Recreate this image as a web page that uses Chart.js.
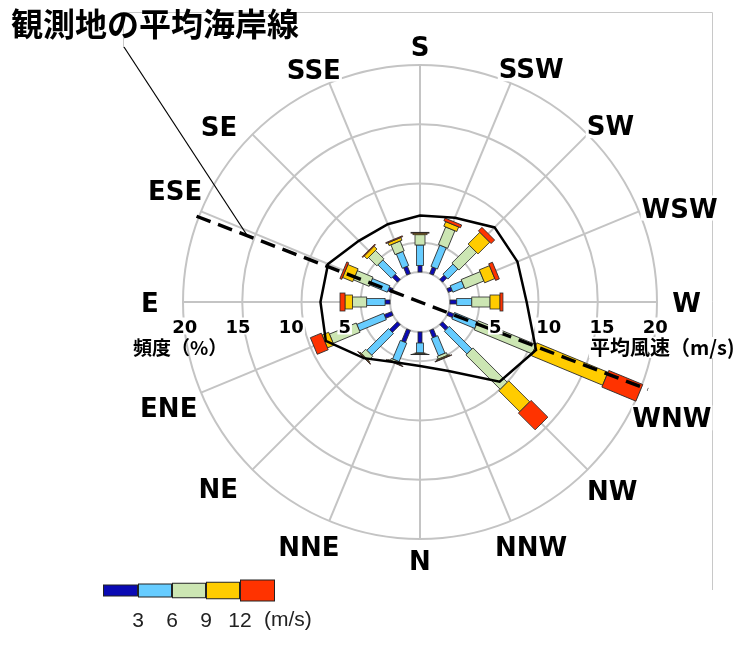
<!DOCTYPE html>
<html>
<head>
<meta charset="utf-8">
<script src="https://cdn.jsdelivr.net/npm/chart.js@4.4.1/dist/chart.umd.min.js"></script>
<style>
  html, body { margin: 0; padding: 0; background: #fff; }
  #rose { display: block; }
</style>
</head>
<body>
<canvas id="rose" width="738" height="657"></canvas>
<script>
// wind directions, clockwise from the top of the rose
const directions = ["S", "SSW", "SW", "WSW", "W", "WNW", "NW", "NNW", "N", "NNE", "NE", "ENE", "E", "ESE", "SE", "SSE"];

// frequency (%) per speed class, same order as directions
const freq0to3   = [0.55, 0.60, 0.50, 0.35, 0.57, 0.50, 0.67, 0.67, 0.93, 1.10, 0.93, 0.67, 0.42, 0.34, 0.60, 0.67];
const freq3to6   = [1.73, 1.95, 1.20, 1.05, 1.27, 2.10, 2.70, 1.60, 0.84, 1.70, 2.60, 2.45, 1.55, 1.60, 1.60, 1.30];
const freq6to9   = [0.87, 1.60, 2.10, 1.73, 1.54, 5.30, 4.10, 0.25, 0.08, 0.17, 0.50, 2.45, 1.20, 1.43, 1.00, 0.90];
const freq9to12  = [0.13, 0.42, 1.40, 0.93, 0.84, 6.50, 2.50, 0.08, 0.04, 0.06, 0.08, 0.60, 0.63, 0.93, 0.34, 0.25];
const freqOver12 = [0.07, 0.25, 0.42, 0.34, 0.25, 3.10, 2.00, 0.04, 0.02, 0.03, 0.04, 1.00, 0.42, 0.17, 0.08, 0.08];

// mean wind speed (m/s) per direction
const meanSpeed = [7.3, 7.7, 8.9, 8.9, 9.0, 10.6, 9.5, 6.3, 5.4, 5.5, 6.7, 8.6, 8.4, 8.4, 7.3, 7.1];

// calm share drawn as the empty centre circle
const calmRing = 2.53;

const freqTicks = [20, 15, 10, 5];
const speedTicks = [5, 10, 15, 20];
const legendTicks = ["3", "6", "9", "12"];

const classSeries = [freq0to3, freq3to6, freq6to9, freq9to12, freqOver12];
const classColors = ["#0a0ab4", "#66ccff", "#cce6b3", "#ffcc00", "#ff3300"];
const classWidths = [4, 7, 10, 14, 18];

// where each direction name sits: radial reach (scale units) and turn off the spoke (deg)
const labelReach = [21.6, 21.8, 21.9, 23.3, 22.5, 23.4, 22.7, 22.7, 21.8, 22.7, 23.2, 23.0, 22.8, 22.7, 22.5, 21.6];
const labelTurn  = [0, 3.0, 2.2, 2.6, 0, 2.2, -0.6, -1.9, 0, 1.9, 2.2, -0.3, 0, 1.9, -3.9, -2.0];

const gridColor = "#c4c4c4";
const coastAngle = 21;      // degrees below the W axis
const coastReach = 20.4;

function polar(scale, angle, value) {
  const d = scale.getDistanceFromCenterForValue(value);
  return { x: scale.xCenter + Math.cos(angle) * d, y: scale.yCenter + Math.sin(angle) * d };
}

// text centred on (x, y) with a white box behind it; capH = ink height
function labelBox(ctx, text, x, y, capH, pad) {
  const w = ctx.measureText(text).width;
  ctx.fillStyle = "#fff";
  ctx.fillRect(x - w / 2 - 1, y - capH / 2 - pad, w + 2, capH + pad * 2);
  ctx.fillStyle = "#000";
  ctx.fillText(text, x, y + capH / 2);
}

const frame = {
  id: "frame",
  beforeDraw(chart) {
    const ctx = chart.ctx;
    ctx.save();
    ctx.fillStyle = "#fff";
    ctx.fillRect(0, 0, chart.width, chart.height);
    ctx.strokeStyle = "#c8c8c8";
    ctx.lineWidth = 1;
    ctx.beginPath();
    ctx.moveTo(123.5, 48);
    ctx.lineTo(123.5, 12.5);
    ctx.lineTo(712.5, 12.5);
    ctx.lineTo(712.5, 590);
    ctx.stroke();
    ctx.restore();
  }
};

const windBars = {
  id: "windBars",
  beforeDatasetsDraw(chart) {
    const ctx = chart.ctx;
    const r = chart.scales.r;
    const hole = r.getDistanceFromCenterForValue(calmRing);

    ctx.save();
    ctx.beginPath();
    ctx.arc(r.xCenter, r.yCenter, hole, 0, Math.PI * 2);
    ctx.fillStyle = "#fff";
    ctx.fill();
    ctx.strokeStyle = gridColor;
    ctx.lineWidth = 2;
    ctx.stroke();

    directions.forEach((dir, i) => {
      const angle = r.getIndexAngle(i) - Math.PI / 2;
      let base = calmRing;
      ctx.save();
      ctx.translate(r.xCenter, r.yCenter);
      ctx.rotate(angle);
      classSeries.forEach((series, c) => {
        const top = base + series[i];
        const r0 = r.getDistanceFromCenterForValue(base);
        const r1 = r.getDistanceFromCenterForValue(top);
        const w = classWidths[c];
        ctx.fillStyle = classColors[c];
        ctx.fillRect(r0, -w / 2, r1 - r0, w);
        ctx.strokeStyle = "#2a2a2a";
        ctx.lineWidth = 0.8;
        ctx.strokeRect(r0, -w / 2, r1 - r0, w);
        base = top;
      });
      ctx.restore();
    });
    ctx.restore();
  }
};

const annotations = {
  id: "annotations",
  afterDatasetsDraw(chart) {
    const ctx = chart.ctx;
    const r = chart.scales.r;
    const a = coastAngle * Math.PI / 180;

    ctx.save();
    // mean coastline through the station
    const p0 = polar(r, a + Math.PI, coastReach - 0.2);
    const p1 = polar(r, a, coastReach + 0.2);
    ctx.strokeStyle = "#000";
    ctx.lineWidth = 3.4;
    ctx.setLineDash([15, 8]);
    ctx.beginPath();
    ctx.moveTo(p0.x, p0.y);
    ctx.lineTo(p1.x, p1.y);
    ctx.stroke();
    ctx.setLineDash([]);

    // leader from the caption to the coastline
    const lead = polar(r, a + Math.PI, 15.6);
    ctx.lineWidth = 1.2;
    ctx.beginPath();
    ctx.moveTo(124, 47);
    ctx.lineTo(lead.x, lead.y);
    ctx.stroke();

    // frequency ticks (left) and speed ticks (right)
    ctx.font = "bold 18px 'DejaVu Sans'";
    ctx.textAlign = "center";
    ctx.textBaseline = "alphabetic";
    const ty = r.yCenter + 24;
    freqTicks.forEach((v) => {
      const d = r.getDistanceFromCenterForValue(v) * 0.9 + 22;
      labelBox(ctx, String(v), r.xCenter - d, ty, 13, 2);
    });
    speedTicks.forEach((v) => {
      const d = r.getDistanceFromCenterForValue(v) * 0.9 + 22;
      labelBox(ctx, String(v), r.xCenter + d, ty, 13, 2);
    });

    ctx.font = "bold 19px 'Noto Sans CJK JP'";
    ctx.textAlign = "left";
    ctx.textBaseline = "middle";
    ctx.fillStyle = "#000";
    ctx.fillText("頻度（%）", 133, 348);
    ctx.font = "bold 20px 'Noto Sans CJK JP'";
    const sw = ctx.measureText("平均風速（m/s)").width;
    ctx.fillStyle = "#fff";
    ctx.fillRect(589, 337, sw + 2, 21);
    ctx.fillStyle = "#000";
    ctx.fillText("平均風速（m/s)", 590, 347);

    // direction names
    ctx.font = "bold 26px 'DejaVu Sans'";
    ctx.textAlign = "center";
    ctx.textBaseline = "alphabetic";
    directions.forEach((dir, i) => {
      const ang = r.getIndexAngle(i) - Math.PI / 2 + labelTurn[i] * Math.PI / 180;
      const p = polar(r, ang, labelReach[i]);
      labelBox(ctx, dir, p.x, p.y, 19, 3);
    });

    // caption
    ctx.font = "bold 32px 'Noto Sans CJK JP'";
    ctx.textAlign = "left";
    ctx.textBaseline = "middle";
    ctx.fillStyle = "#000";
    ctx.fillText("観測地の平均海岸線", 11, 24);

    // speed class legend
    const lx = [103, 138, 172, 206, 240, 275];
    const lh = [11, 13, 14.5, 16.5, 21];
    classColors.forEach((col, c) => {
      const h = lh[c];
      ctx.fillStyle = col;
      ctx.fillRect(lx[c], 590.5 - h / 2, lx[c + 1] - lx[c], h);
      ctx.strokeStyle = "#222";
      ctx.lineWidth = 1;
      ctx.strokeRect(lx[c] + 0.5, 590.5 - h / 2, lx[c + 1] - lx[c] - 1, h);
    });
    ctx.font = "21px 'Liberation Sans'";
    ctx.fillStyle = "#222";
    ctx.textAlign = "center";
    legendTicks.forEach((t, k) => ctx.fillText(t, lx[k + 1], 621));
    ctx.textAlign = "left";
    ctx.fillText("(m/s)", 264, 620);
    ctx.restore();
  }
};

new Chart(document.getElementById("rose"), {
  type: "radar",
  data: {
    labels: directions,
    datasets: [{
      label: "平均風速",
      data: meanSpeed,
      borderColor: "#000",
      borderWidth: 2.5,
      pointRadius: 0,
      fill: false,
      tension: 0
    }]
  },
  options: {
    responsive: false,
    animation: false,
    devicePixelRatio: 1,
    layout: { padding: { left: 183, right: 81, top: 65, bottom: 118 } },
    plugins: { legend: { display: false }, tooltip: { enabled: false } },
    scales: {
      r: {
        min: 0,
        max: 20,
        ticks: { stepSize: 5, display: false },
        grid: { circular: true, color: gridColor, lineWidth: 2 },
        angleLines: { color: gridColor, lineWidth: 2 },
        pointLabels: { display: false }
      }
    }
  },
  plugins: [frame, windBars, annotations]
});
</script>
</body>
</html>
